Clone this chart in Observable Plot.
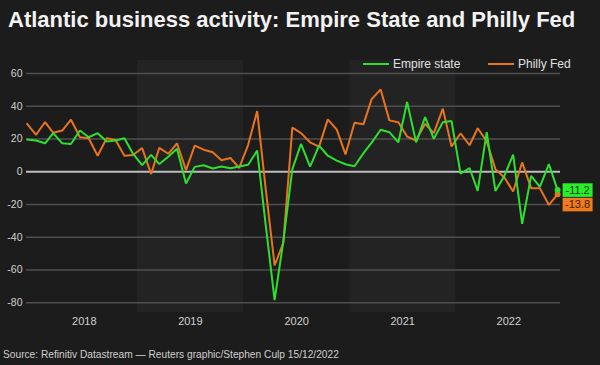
<!DOCTYPE html>
<html>
<head>
<meta charset="utf-8">
<script src="https://cdn.jsdelivr.net/npm/d3@7"></script>
<script src="https://cdn.jsdelivr.net/npm/@observablehq/plot@0.6"></script>
<style>
  html, body { margin: 0; padding: 0; background: #1c1c1c; }
  #wrap { position: relative; width: 600px; height: 365px; overflow: hidden; background: #1c1c1c;
          font-family: "Liberation Sans", Arial, sans-serif; }
  #title { position: absolute; left: 8px; top: 9px; font-size: 22px; line-height: 22px; font-weight: bold;
           color: #f2f2f2; white-space: nowrap; }
  #chart { position: absolute; left: 0; top: 40px; }
  .leg { position: absolute; top: 57px; height: 14px; font-size: 12px; line-height: 14px; color: #e0e0e0;
         white-space: nowrap; display: flex; align-items: center; }
  .sw { display: inline-block; width: 26px; height: 2px; margin-right: 4px; }
  #caption { position: absolute; left: 3px; top: 349px; font-size: 10.2px; line-height: 12px; color: #cfcfcf;
             white-space: nowrap; }
</style>
</head>
<body>
<div id="wrap">
  <div id="title">Atlantic business activity: Empire State and Philly Fed</div>
  <div id="chart"></div>
  <div class="leg" style="left:363px"><span class="sw" style="background:#2ee02e"></span>Empire state</div>
  <div class="leg" style="left:488px"><span class="sw" style="background:#e8741e"></span>Philly Fed</div>
  <div id="caption">Source: Refinitiv Datastream — Reuters graphic/Stephen Culp 15/12/2022</div>
</div>
<script>
// Monthly readings, Dec 2017 .. Dec 2022 (61 months)
const firstMonth = [2017, 11];   // Dec 2017 (UTC month index)
const lastMonth = [2022, 11];    // Dec 2022
const seriesNames = ["Empire state", "Philly Fed"];
const seriesColors = ["#2ee02e", "#e8741e"];

const empire = [
  19.7,
  19.1, 17.4, 23.6, 17.4, 17.0, 25.2, 21.1, 23.6, 18.5, 19.1, 20.5, 10.9,
  4.1, 10.3, 4.7, 9.2, 14.0, -7.2, 3.0, 4.0, 2.0, 3.2, 2.2, 3.2,
  4.3, 12.9, -32.0, -78.5, -42.5, 1.6, 17.0, 3.1, 16.0, 9.8, 6.8, 4.6,
  3.4, 11.4, 17.8, 25.7, 24.2, 18.0, 42.6, 18.0, 33.4, 20.1, 30.3, 31.0,
  -1.2, 2.3, -11.7, 24.2, -11.7, -2.5, 10.5, -31.8, -2.5, -9.2, 4.7, -11.2
];
const philly = [
  29.3,
  22.6, 30.4, 23.8, 25.2, 31.8, 21.1, 20.5, 9.8, 20.5, 19.5, 9.8, 10.2,
  14.5, -1.4, 14.6, 11.0, 17.4, 1.0, 16.0, 13.5, 11.9, 7.0, 8.4, 2.3,
  16.5, 37.1, -10.0, -57.2, -43.5, 27.0, 23.6, 18.0, 15.4, 32.0, 25.8, 10.6,
  30.0, 29.1, 44.4, 50.3, 31.4, 30.3, 21.5, 19.1, 29.3, 23.6, 38.6, 15.5,
  23.4, 16.2, 26.6, 18.6, 1.6, -3.5, -12.1, 5.7, -10.0, -10.0, -20.3, -13.8
];
const endLabels = ["-11.2", "-13.8"];
const years = [2018, 2019, 2020, 2021, 2022];
const shadedYears = [2019, 2021];
const yTicks = [60, 40, 20, 0, -20, -40, -60, -80];

const months = d3.utcMonth.range(
  new Date(Date.UTC(firstMonth[0], firstMonth[1], 1)),
  new Date(Date.UTC(lastMonth[0], lastMonth[1] + 1, 1))
);
const rows = [];
months.forEach((d, i) => {
  rows.push({date: d, value: empire[i], series: seriesNames[0]});
});
months.forEach((d, i) => {
  rows.push({date: d, value: philly[i], series: seriesNames[1]});
});
const empireRows = rows.filter(r => r.series === seriesNames[0]);
const phillyRows = rows.filter(r => r.series === seriesNames[1]);
const lastE = [{...empireRows[empireRows.length - 1], label: endLabels[0]}];
const lastP = [{...phillyRows[phillyRows.length - 1], label: endLabels[1]}];

// year bands (boundaries at mid-December, matching the original graphic)
const bands = shadedYears.map(y => ({x1: new Date(Date.UTC(y - 1, 11, 16)), x2: new Date(Date.UTC(y, 11, 16))}));
const yearMids = years.map(y => new Date(Date.UTC(y, 5, 16)));

const boxSymbol = {draw(ctx) { ctx.rect(-15, -6.8, 30, 13.6); }};

const chart = Plot.plot({
  width: 600,
  height: 300,
  marginLeft: 26,
  marginRight: 40,
  marginTop: 20,
  marginBottom: 28,
  style: {background: "transparent", color: "#cfcfcf", fontFamily: "'Liberation Sans', Arial, sans-serif", fontSize: "11px"},
  x: {type: "utc", domain: [new Date(Date.UTC(2017, 10, 29)), new Date(Date.UTC(2022, 11, 11))], label: null},
  y: {domain: [-86, 68], label: null},
  color: {domain: seriesNames, range: seriesColors},
  marks: [
    Plot.rect(bands, {x1: "x1", x2: "x2", fill: "#232323"}),
    Plot.ruleY(yTicks.filter(d => d !== 0), {stroke: "#4f4f4f", strokeWidth: 1.5}),
    Plot.ruleY([0], {stroke: "#bdbdbd", strokeWidth: 2}),
    Plot.axisY(yTicks, {tickSize: 0, tickPadding: 4, tickFormat: d => String(d), fontSize: 10.5, fill: "#d0d0d0", label: null}),
    Plot.axisX(yearMids, {tickSize: 0, tickPadding: 5, tickFormat: d3.utcFormat("%Y"), fontSize: 11, fill: "#d0d0d0", label: null}),
    Plot.line(phillyRows, {x: "date", y: "value", stroke: seriesColors[1], strokeWidth: 2, strokeLinejoin: "miter"}),
    Plot.line(empireRows, {x: "date", y: "value", stroke: seriesColors[0], strokeWidth: 2, strokeLinejoin: "miter"}),
    Plot.dot(lastP, {x: "date", y: "value", r: 3, fill: seriesColors[1]}),
    Plot.dot(lastE, {x: "date", y: "value", r: 3, fill: seriesColors[0]}),
    Plot.dot(lastE, {x: "date", y: "value", dx: 20, symbol: boxSymbol, fill: "#28ee28"}),
    Plot.dot(lastP, {x: "date", y: "value", dx: 20, dy: 10.2, symbol: boxSymbol, fill: "#f07a1c"}),
    Plot.text(lastE, {x: "date", y: "value", text: "label", dx: 20, fill: "#1b3a1b", fontSize: 11}),
    Plot.text(lastP, {x: "date", y: "value", text: "label", dx: 20, dy: 10.2, fill: "#3a1e0a", fontSize: 11})
  ]
});
document.getElementById("chart").appendChild(chart);
</script>
</body>
</html>
